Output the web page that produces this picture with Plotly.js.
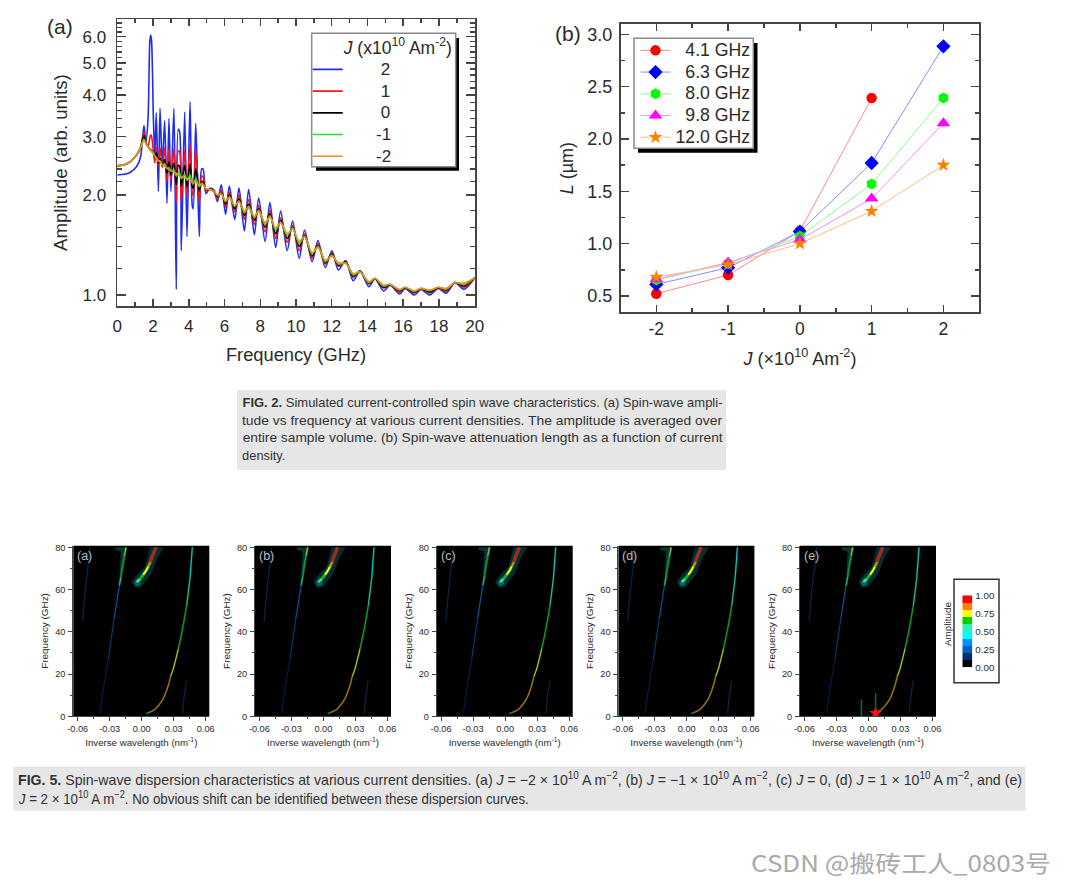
<!DOCTYPE html>
<html><head><meta charset="utf-8">
<script src="https://cdn.plot.ly/plotly-3.0.1.min.js"></script>
<style>html,body{margin:0;padding:0;background:#fff}#chart{width:1066px;height:886px}</style>
</head><body><div id="chart"></div>
<script>
// ---------- Panel (a): amplitude vs frequency ----------
const freq = [0,0.4,0.71,1.08,1.3,1.49,1.6,1.72,1.82,1.87,1.92,2.02,2.1,2.18,2.3,2.39,2.52,2.65,2.78,2.89,3.0,3.17,3.3,3.41,3.49,3.58,3.77,3.9,4.07,4.2,4.25,4.39,4.59,4.72,4.8,4.96,5.19,5.41,5.6,5.82,6.06,6.27,6.57,6.81,7.11,7.35,7.67,7.91,8.27,8.54,8.86,9.14,9.51,9.81,10.18,10.48,10.9,11.23,11.64,12.01,12.37,12.78,13.2,13.58,14.08,14.42,14.9,15.26,15.8,16.1,16.62,17,17.48,17.96,18.4,18.9,19.4,20];
const ampP2 = [2.3,2.31,2.34,2.44,2.6,3.24,2.9,3.4,5.8,6.07,5.8,3.4,2.6,3.54,2.05,3.65,2.44,3.35,1.89,3.4,2.05,3.65,1.04,3.16,3.1,1.36,3.56,1.5,3.82,1.85,1.82,3.29,1.5,2.4,2.4,2.02,2.1,2.07,1.91,2.15,1.75,2.13,1.69,2.1,1.56,2.08,1.52,1.96,1.45,1.9,1.39,1.79,1.36,1.67,1.29,1.57,1.26,1.46,1.21,1.36,1.19,1.27,1.104,1.18,1.059,1.12,1.028,1.07,1.007,1.047,1,1.04,1,1.047,1.012,1.09,1.04,1.127];
const ampP1 = [2.45,2.47,2.52,2.64,2.78,3.1,2.88,2.8,2.98,3.04,3,2.7,2.5,2.78,2.45,2.78,2.42,2.78,2.2,2.76,2.22,2.76,1.9,2.72,2.7,1.9,2.72,2,2.86,2.02,2,2.75,1.9,2.28,2.27,2.06,2.09,2.06,1.95,2.07,1.84,2.04,1.78,2,1.69,1.94,1.63,1.86,1.55,1.8,1.48,1.71,1.44,1.62,1.36,1.53,1.29,1.43,1.24,1.34,1.22,1.26,1.13,1.18,1.08,1.12,1.05,1.075,1.02,1.05,1.015,1.043,1.015,1.05,1.025,1.09,1.055,1.127];
const ampZ0 = [2.45,2.47,2.52,2.64,2.78,3.02,2.88,2.8,2.76,2.74,2.72,2.68,2.6,2.68,2.5,2.58,2.46,2.56,2.33,2.52,2.3,2.5,2.15,2.46,2.44,2.13,2.46,2.12,2.48,2.11,2.1,2.4,2.06,2.2,2.19,2.08,2.08,2.05,1.98,2.03,1.88,2,1.82,1.95,1.74,1.88,1.68,1.82,1.6,1.76,1.53,1.68,1.48,1.6,1.4,1.51,1.31,1.41,1.25,1.33,1.23,1.26,1.14,1.18,1.085,1.12,1.055,1.075,1.03,1.05,1.02,1.045,1.022,1.052,1.035,1.09,1.065,1.127];
const ampM1 = [2.45,2.47,2.52,2.64,2.78,2.95,2.86,2.8,2.75,2.73,2.71,2.68,2.62,2.6,2.53,2.54,2.47,2.48,2.4,2.42,2.36,2.38,2.28,2.34,2.33,2.24,2.31,2.21,2.3,2.17,2.16,2.24,2.12,2.17,2.16,2.09,2.08,2.05,2,2.02,1.91,1.98,1.85,1.92,1.77,1.85,1.71,1.8,1.63,1.73,1.57,1.66,1.51,1.59,1.43,1.5,1.33,1.4,1.26,1.32,1.24,1.25,1.15,1.175,1.09,1.123,1.065,1.077,1.035,1.055,1.025,1.047,1.03,1.055,1.04,1.09,1.075,1.127];
const ampM2 = [2.45,2.47,2.52,2.64,2.78,2.92,2.86,2.8,2.75,2.72,2.7,2.67,2.62,2.58,2.54,2.52,2.47,2.45,2.41,2.39,2.38,2.35,2.32,2.3,2.29,2.27,2.26,2.24,2.22,2.19,2.18,2.19,2.14,2.16,2.15,2.09,2.08,2.05,2,2.01,1.92,1.97,1.86,1.91,1.79,1.83,1.72,1.79,1.65,1.72,1.59,1.65,1.53,1.58,1.45,1.5,1.34,1.39,1.27,1.31,1.25,1.246,1.16,1.175,1.097,1.123,1.07,1.077,1.04,1.055,1.03,1.047,1.035,1.055,1.047,1.09,1.085,1.127];
const ampNames = ['2','1','0','-1','-2'];
const ampColors = ['#1f2cf0','#f5141e','#000000','#22e02a','#f28a1e'];
const ampTicks = [1,2,3,4,5,6];
const ampTickText = ['1.0','2.0','3.0','4.0','5.0','6.0'];
const ampMinor = [1.2,1.4,1.6,1.8,2.2,2.4,2.6,2.8,3.2,3.4,3.6,3.8,4.2,4.4,4.6,4.8,5.2,5.4,5.6,5.8,6.2,6.4,6.6];

// ---------- Panel (b): attenuation length ----------
const currentJ = [-2,-1,0,1,2];
const len41 = [0.522,0.70,1.12,2.39,null];
const len63 = [0.61,0.77,1.115,1.77,2.885];
const len80 = [0.653,0.81,1.07,1.57,2.39];
const len98 = [0.66,0.82,1.04,1.43,2.15];
const len120 = [0.68,0.80,1.00,1.31,1.75];
const lenNames = ['\u00a0\u00a04.1 GHz','\u00a0\u00a06.3 GHz','\u00a0\u00a08.0 GHz','\u00a0\u00a09.8 GHz','12.0 GHz'];
const lenLine = ['#ff8a8a','#8a8aff','#8aff8a','#ff8aff','#ffbb88'];
const lenMarker = ['#ff0000','#0000ff','#00ff00','#ff00ff','#ff8000'];
const lenSymbol = ['circle','diamond','hexagon','triangle-up','star'];
const lenSize = [10.5,11,11,12,10.5];

// ---------- FIG. 5: dispersion ridges (inverse wavelength, frequency, colour level) ----------
const levelColors = ['#000000','#003070','#0060c0','#0090ff','#00ffff','#30f0b0','#00d000','#ffff00','#ff8000','#ff0000'];
const lowK = [0.0041,0.0068,0.0095,0.0125,0.0165,0.0203,0.025,0.0272,0.0297,0.0344,0.0384,0.0422,0.0453,0.0475];
const lowF = [1.3,1.8,2.4,3.3,5.5,8.4,14.7,19,22.6,32,41.6,52.6,65.3,80];
const lowL = [6,8,8,8,8,8,8,7,7,6,6,5,4,4];
const upK = [-0.0047,-0.0015,0.0015,0.0042,0.0063,0.0082,0.0094,0.0114,0.0134];
const upF = [63.5,65,67,69,71,73,75,77.5,80];
const upL = [5,6,7,7,8,9,9,9,9];
const leftK = [-0.0391,-0.0359,-0.0313,-0.0259,-0.0209,-0.0194,-0.0178,-0.0162,-0.0147];
const leftF = [1.3,13,27,46,62,66,71.6,76,80];
const leftL = [1,1,2,3,5,6,6,7,7];
const farLeftK = [-0.0484,-0.0505,-0.053,-0.0555];
const farLeftF = [80,70,59,45];
const farRightK = [0.0384,0.0395,0.042];
const farRightF = [1.3,8,17];
const blobOuterK = [-0.0094,-0.0047,0.0031,0.0063,0.0078,0.0209,0.0147,0.0094,0.0031,0,-0.0063];
const blobOuterF = [63.7,66.9,70.8,76.4,80,80,74.8,67.7,63.7,61.3,60.9];
const blobInnerK = [-0.0072,-0.004,-0.001,-0.001,-0.005];
const blobInnerF = [63.2,65.6,65,62.4,61.6];
const flareK = [-0.025,-0.0134,-0.0172,-0.0209,-0.0203,-0.0194,-0.025];
const flareF = [80,80,70,61,70,78,78.7];
const spurAK = [-0.0065,-0.0065]; const spurAF = [0,8];
const spurBK = [0.0068,0.0068];   const spurBF = [0,11];
const hotK = [0.0068]; const hotF = [1.5];
const heatLabels = ['(a)','(b)','(c)','(d)','(e)'];
const heatXTicks = [-0.06,-0.03,0,0.03,0.06];
const heatXText = ['-0.06','-0.03','0.00','0.03','0.06'];
const heatYTicks = [0,20,40,60,80];
const barZ = [0.05,0.15,0.25,0.35,0.45,0.55,0.65,0.75,0.85,0.95];
const barTicks = [0,0.25,0.5,0.75,1];
const barText = ['0.00','0.25','0.50','0.75','1.00'];

// ---------- Caption text ----------
const cap2 = ['<b>FIG. 2.</b> Simulated current-controlled spin wave characteristics. (a) Spin-wave ampli-',
 'tude vs frequency at various current densities. The amplitude is averaged over',
 'entire sample volume. (b) Spin-wave attenuation length as a function of current',
 'density.'];
const cap5 = ['<b>FIG. 5.</b> Spin-wave dispersion characteristics at various current densities. (a) <i>J</i> = \u22122 \u00d7 10<sup>10</sup> A m<sup>\u22122</sup>, (b) <i>J</i> = \u22121 \u00d7 10<sup>10</sup> A m<sup>\u22122</sup>, (c) <i>J</i> = 0, (d) <i>J</i> = 1 \u00d7 10<sup>10</sup> A m<sup>\u22122</sup>, and (e)',
 '<i>J</i> = 2 \u00d7 10<sup>10</sup> A m<sup>\u22122</sup>. No obvious shift can be identified between these dispersion curves.'];
const watermark = 'CSDN @搬砖工人_0803号';

// ---------- Layout helpers ----------
const W=1066,H=886,FONT='"Liberation Sans",Arial,sans-serif',INK='#2a2a2a',AX='#444444';
const px=x=>x/W, py=y=>1-y/H;
const data=[],shapes=[],annotations=[],fits=[];
function rect(x0,y0,x1,y1,o){shapes.push(Object.assign({type:'rect',xref:'paper',yref:'paper',x0:px(x0),x1:px(x1),y0:py(y1),y1:py(y0),layer:'below',line:{width:0}},o));}
function note(text,x,y,size,o){annotations.push(Object.assign({text,x:px(x),y:py(y),xref:'paper',yref:'paper',showarrow:false,xanchor:'center',yanchor:'middle',font:{family:FONT,size,color:INK}},o||{}));return annotations.length-1;}
const pad=n=>'\u00a0'.repeat(n);
const sized=(t,s)=>'<span style="font-size:'+s+'px">'+t+'</span>';

// Panel (a)
[ampP2,ampP1,ampZ0,ampM1,ampM2].forEach((v,i)=>data.push({x:freq,y:v,name:sized(pad(ampNames[i].length<2?7:6)+ampNames[i],17),type:'scatter',mode:'lines',
  line:{color:ampColors[i],width:1.6,shape:'spline',smoothing:0.8},xaxis:'x',yaxis:'y',legend:'legend'}));
// Panel (b)
[len41,len63,len80,len98,len120].forEach((v,i)=>data.push({x:currentJ,y:v,name:sized(lenNames[i],17.7),type:'scatter',mode:'lines+markers',
  line:{color:lenLine[i],width:1},marker:{color:lenMarker[i],symbol:lenSymbol[i],size:lenSize[i],line:{width:0}},xaxis:'x2',yaxis:'y2',legend:'legend2'}));

const layout={width:W,height:H,margin:{l:0,r:0,t:0,b:0},paper_bgcolor:'#fff',plot_bgcolor:'rgba(0,0,0,0)',showlegend:true,font:{family:FONT,color:INK},
 shapes,annotations,
 xaxis:{domain:[px(117.3),px(474.7)],range:[0,20],anchor:'y',tickmode:'array',tickvals:[0,2,4,6,8,10,12,14,16,18,20],ticks:'inside',ticklen:7,tickwidth:1.5,tickcolor:AX,
   minor:{tickmode:'array',tickvals:[1,3,5,7,9,11,13,15,17,19],ticks:'inside',ticklen:4,tickwidth:1.5,tickcolor:AX},mirror:'allticks',showline:true,linecolor:AX,linewidth:1.8,showgrid:false,zeroline:false,
   tickfont:{size:17,color:INK},ticklabelstandoff:4,title:{text:'Frequency (GHz)',font:{size:18.3,color:INK},standoff:13}},
 yaxis:{domain:[py(306),py(19.3)],type:'log',range:[-0.0331,0.8307],anchor:'x',tickmode:'array',tickvals:ampTicks,ticktext:ampTickText,ticks:'inside',ticklen:9,tickwidth:1.5,tickcolor:AX,
   minor:{tickmode:'array',tickvals:ampMinor,ticks:'inside',ticklen:5,tickwidth:1.5,tickcolor:AX},mirror:'allticks',showline:true,linecolor:AX,linewidth:1.8,showgrid:false,zeroline:false,
   tickfont:{size:17,color:INK},ticklabelstandoff:6,title:{text:'Amplitude (arb. units)',font:{size:18.6,color:INK},standoff:10}},
 xaxis2:{domain:[px(620.7),px(979.3)],range:[-2.496,2.5],anchor:'y2',tickmode:'array',tickvals:currentJ,ticktext:['-2','-1','0','1','2'],ticks:'inside',ticklen:7,tickwidth:1.5,tickcolor:AX,
   minor:{tickmode:'array',tickvals:[-1.5,-0.5,0.5,1.5],ticks:'inside',ticklen:4,tickwidth:1.5,tickcolor:AX},mirror:'allticks',showline:true,linecolor:AX,linewidth:1.8,showgrid:false,zeroline:false,
   tickfont:{size:17.5,color:INK},ticklabelstandoff:0,title:{text:'<i>J</i> (\u00d710<sup>10</sup> Am<sup>-2</sup>)',font:{size:18,color:INK},standoff:14}},
 yaxis2:{domain:[py(312.3),py(24)],range:[0.344,3.098],anchor:'x2',tickmode:'array',tickvals:[0.5,1,1.5,2,2.5,3],ticktext:['0.5','1.0','1.5','2.0','2.5','3.0'],ticks:'inside',ticklen:8,tickwidth:1.5,tickcolor:AX,
   minor:{tickmode:'array',tickvals:[0.75,1.25,1.75,2.25,2.75],ticks:'inside',ticklen:4,tickwidth:1.5,tickcolor:AX},mirror:'allticks',showline:true,linecolor:AX,linewidth:1.8,showgrid:false,zeroline:false,
   tickfont:{size:18,color:INK},ticklabelstandoff:3,title:{text:'<i>L</i> (\u00b5m)',font:{size:18,color:INK},standoff:9}},
 legend:{x:px(307.7),y:py(30.8),xanchor:'left',yanchor:'top',bgcolor:'rgba(0,0,0,0)',borderwidth:0,font:{size:14.4,color:INK,family:FONT},itemwidth:30,entrywidth:112,entrywidthmode:'pixels',traceorder:'normal',
   title:{text:pad(7)+'<i>J</i> (x10<sup>10</sup> Am<sup>-2</sup>)',font:{size:17.5,color:INK,family:FONT}}},
 legend2:{x:px(635.5),y:py(34.5),xanchor:'left',yanchor:'top',bgcolor:'rgba(0,0,0,0)',borderwidth:0,font:{size:14.4,color:INK,family:FONT},itemwidth:30,entrywidth:99,entrywidthmode:'pixels',traceorder:'normal'}
};

// Legend boxes with drop shadows
rect(316,38,459,170.7,{fillcolor:'#000',layer:'above'});
rect(311.7,33.3,455.7,166.7,{fillcolor:'#fff',layer:'above',line:{color:'#8a8a8a',width:1.5}});
rect(638,43,757.5,152.7,{fillcolor:'#000',layer:'above'});
rect(634,38.3,753.3,148.3,{fillcolor:'#fff',layer:'above',line:{color:'#8a8a8a',width:1.5}});

// Panel letters
note('(a)',60,27,21); note('(b)',567.5,33,21);

// FIG. 5 panels
const heatLeft=[73.3,255,436.7,618.4,800];
function addLine(ax,k,f,color,width,op){data.push({x:k,y:f,type:'scatter',mode:'lines',showlegend:false,hoverinfo:'skip',line:{color,width,shape:'spline',smoothing:0.8},opacity:op,xaxis:ax[0],yaxis:ax[1]});}
function addPoly(ax,k,f,color,op){data.push({x:k,y:f,type:'scatter',mode:'lines',fill:'toself',fillcolor:color,showlegend:false,hoverinfo:'skip',line:{width:0,color},opacity:op,xaxis:ax[0],yaxis:ax[1]});}
function addRidge(ax,k,f,l,width,op){
  let s=0;
  for(let i=1;i<k.length;i++){
    if(i==k.length-1||l[i]!=l[s]){addLine(ax,k.slice(s,i+1),f.slice(s,i+1),levelColors[l[s]],width,op);s=i;}
  }
}
heatLeft.forEach((l,i)=>{
  const n=i+3, xn='xaxis'+n, yn='yaxis'+n, ax=['x'+n,'y'+n];
  layout[xn]={domain:[px(l),px(l+136)],range:[-0.0641,0.0634],anchor:'y'+n,tickmode:'array',tickvals:heatXTicks,ticktext:heatXText,ticks:'outside',ticklen:4,tickwidth:1,tickcolor:AX,
    minor:{dtick:0.015,tick0:-0.06,ticks:'outside',ticklen:2,tickwidth:1,tickcolor:AX},showline:true,linecolor:AX,linewidth:1,showgrid:false,zeroline:false,tickfont:{size:9.2,color:INK},ticklabelstandoff:0,
    title:{text:'Inverse wavelength (nm<sup>-1</sup>)',font:{size:9.7,color:INK},standoff:5}};
  layout[yn]={domain:[py(716.3),py(545.7)],range:[0,80.76],anchor:'x'+n,tickmode:'array',tickvals:heatYTicks,ticks:'outside',ticklen:4,tickwidth:1,tickcolor:AX,
    minor:{dtick:10,ticks:'outside',ticklen:2,tickwidth:1,tickcolor:AX},showline:true,linecolor:AX,linewidth:1,showgrid:false,zeroline:false,tickfont:{size:9.2,color:INK},ticklabelstandoff:1,
    title:{text:'Frequency (GHz)',font:{size:9.9,color:INK},standoff:4}};
  rect(l,545.7,l+136,716.3,{fillcolor:'#000000'});
  addLine(ax,farLeftK,farLeftF,'#0a3a66',1.4,0.6);
  addLine(ax,farRightK,farRightF,'#0a3a66',1.4,0.6);
  addPoly(ax,flareK,flareF,'#0d4a48',0.7);
  addPoly(ax,blobOuterK,blobOuterF,'#0a3238',0.85);
  addPoly(ax,blobInnerK,blobInnerF,'#126a5c',0.9);
  addLine(ax,upK,upF,'#18a060',3.5,0.6);
  addLine(ax,lowK,lowF,'#145a40',2.2,0.6);
  addLine(ax,leftK.slice(4),leftF.slice(4),'#14785a',2.4,0.6);
  addRidge(ax,lowK,lowF,lowL,1.1,0.75);
  addRidge(ax,leftK,leftF,leftL,1.2,0.6);
  addRidge(ax,upK,upF,upL,1.9,1);
  if(i==4){
    addLine(ax,spurAK,spurAF,'#127060',1.6,0.85);
    addLine(ax,spurBK,spurBF,'#127060',1.6,0.85);
    data.push({x:hotK,y:hotF,type:'scatter',mode:'markers',showlegend:false,hoverinfo:'skip',marker:{symbol:'star',size:10,color:'#ff1010',line:{width:0}},xaxis:ax[0],yaxis:ax[1]});
  }
  note(heatLabels[i],l+11.5,556,12.5,{font:{family:FONT,size:12.5,color:'#bdbdbd'}});
});

// Amplitude colour bar
rect(954,579.3,999,682.7,{fillcolor:'#fff',line:{color:'#333',width:1.5}});
const binScale=[];levelColors.forEach((c,i)=>{binScale.push([i/10,c],[(i+1)/10,c]);});
data.push({type:'heatmap',x:[0],y:barZ,z:barZ.map(v=>[v]),zmin:0,zmax:1,colorscale:binScale,showscale:false,hoverinfo:'skip',xaxis:'x8',yaxis:'y8'});
layout.xaxis8={domain:[px(962.3),px(972.3)],range:[-0.5,0.5],anchor:'y8',visible:false};
layout.yaxis8={domain:[py(667.3),py(595.3)],range:[0,1],anchor:'x8',side:'right',tickmode:'array',tickvals:barTicks,ticktext:barText,ticks:'',showline:false,showgrid:false,zeroline:false,tickfont:{size:9.8,color:INK},ticklabelstandoff:2};
note('Amplitude',947,624,9.9,{textangle:-90});

// Captions
rect(237,390,726,470,{fillcolor:'#e6e6e6'});
rect(13.4,766.7,1025.5,810.7,{fillcolor:'#e6e6e6'});
const cap2Y=[402.3,420,437.7,455.7];
cap2.forEach((t,i)=>{
  const last=i==3, x0=242.7, x1=last?286:722.7;
  const id=note(t,(x0+x1)/2,cap2Y[i],13.5,{font:{family:FONT,size:13.5,color:'#333'}});
  fits.push({id,len:x1-x0});
});
const cap5Y=[779.3,798.3], cap5X=[[18,1022],[18,528]];
cap5.forEach((t,i)=>{
  const id=note(t,(cap5X[i][0]+cap5X[i][1])/2,cap5Y[i],14.5,{font:{family:FONT,size:14.5,color:'#333'}});
  fits.push({id,len:cap5X[i][1]-cap5X[i][0]});
});
const wm=note(watermark,900.5,862,23,{font:{family:'"Noto Sans CJK SC","Noto Sans",sans-serif',size:23,color:'#a9a9a9'}});
fits.push({id:wm,len:300});

Plotly.newPlot('chart',data,layout,{displayModeBar:false,staticPlot:true}).then(()=>{
  fits.forEach(f=>{
    const g=document.querySelector('#chart .annotation[data-index="'+f.id+'"] text');
    if(g){g.setAttribute('textLength',f.len);g.setAttribute('lengthAdjust','spacingAndGlyphs');}
  });
  heatLeft.forEach((l,i)=>{
    const p=document.querySelector('#chart .subplot.x'+(i+3)+'y'+(i+3)+' .plot');
    if(p)p.style.filter='blur(0.7px)';
  });
});
</script></body></html>
